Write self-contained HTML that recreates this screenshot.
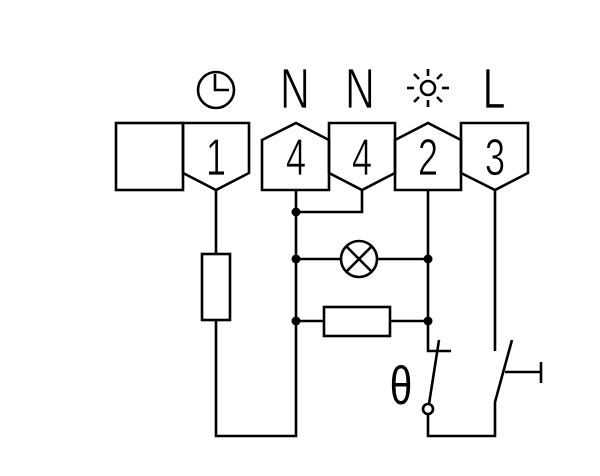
<!DOCTYPE html>
<html><head><meta charset="utf-8"><style>html,body{margin:0;padding:0;background:#fff}svg{display:block}</style></head>
<body>
<svg width="600" height="476" viewBox="0 0 600 476" xmlns="http://www.w3.org/2000/svg">
<g fill="none" stroke="#000" stroke-width="2.6" stroke-linejoin="miter">
<rect x="116" y="123" width="67" height="67"/>
<polygon points="183,123 249,123 249,173 216,190 183,173"/>
<polygon points="262,140 296,123 329,140 329,190 262,190"/>
<polygon points="329,123 395,123 395,173 362,190 329,173"/>
<polygon points="395,140 428,123 461,140 461,190 395,190"/>
<polygon points="461,123 528,123 528,173 495,190 461,173"/>
<circle cx="216" cy="90" r="18"/>
<polyline points="215,74 215,90 229,90"/>
<circle cx="428" cy="88" r="7"/>
<line x1="428" y1="69" x2="428" y2="76"/><line x1="428" y1="100" x2="428" y2="107"/>
<line x1="407" y1="88" x2="414" y2="88"/><line x1="442" y1="88" x2="449" y2="88"/>
<line x1="414" y1="74" x2="419" y2="79"/><line x1="437" y1="97" x2="442" y2="102"/>
<line x1="442" y1="74" x2="437" y2="79"/><line x1="419" y1="97" x2="414" y2="102"/>
<polyline points="216,190 216,254"/>
<rect x="202" y="254" width="28" height="66"/>
<polyline points="216,320 216,436 296,436 296,190"/>
<polyline points="296,212 362,212 362,190"/>
<line x1="296" y1="259" x2="341" y2="259"/>
<circle cx="359" cy="259" r="18"/>
<line x1="346" y1="246" x2="372" y2="272"/><line x1="372" y1="246" x2="346" y2="272"/>
<line x1="377" y1="259" x2="428" y2="259"/>
<line x1="296" y1="321" x2="324" y2="321"/>
<rect x="324" y="307" width="66" height="29"/>
<line x1="390" y1="321" x2="428" y2="321"/>
<polyline points="428,190 428,351 451,351"/>
<line x1="439" y1="340" x2="429" y2="404"/>
<circle cx="428" cy="409" r="5"/>
<polyline points="428,414 428,436 495,436 495,402 512,340"/>
<line x1="495" y1="190" x2="495" y2="351"/>
<line x1="505" y1="372" x2="541" y2="372"/>
<line x1="541" y1="362" x2="541" y2="383"/>
</g>
<g fill="#000">
<circle cx="296" cy="212" r="4.5"/>
<circle cx="296" cy="259" r="4.5"/><circle cx="428" cy="259" r="4.5"/>
<circle cx="296" cy="321" r="4.5"/><circle cx="428" cy="321" r="4.5"/>
</g>
<g font-family="Liberation Sans, sans-serif" fill="#000" text-anchor="middle" stroke="#fff" stroke-width="0.8">
<text transform="translate(295,108) scale(0.72,1)" font-size="57">N</text>
<text transform="translate(360,108) scale(0.72,1)" font-size="57">N</text>
<text transform="translate(494,108) scale(0.72,1)" font-size="57">L</text>
<text transform="translate(216,175) scale(0.7,1)" font-size="52">1</text>
<text transform="translate(296,175) scale(0.7,1)" font-size="52">4</text>
<text transform="translate(362,175) scale(0.7,1)" font-size="52">4</text>
<text transform="translate(428,175) scale(0.7,1)" font-size="52">2</text>
<text transform="translate(495,175) scale(0.7,1)" font-size="52">3</text>
</g>
<text transform="translate(401,404) scale(0.75,1)" font-size="54" font-family="Liberation Sans, sans-serif" text-anchor="middle">θ</text>
</svg>
</body></html>
